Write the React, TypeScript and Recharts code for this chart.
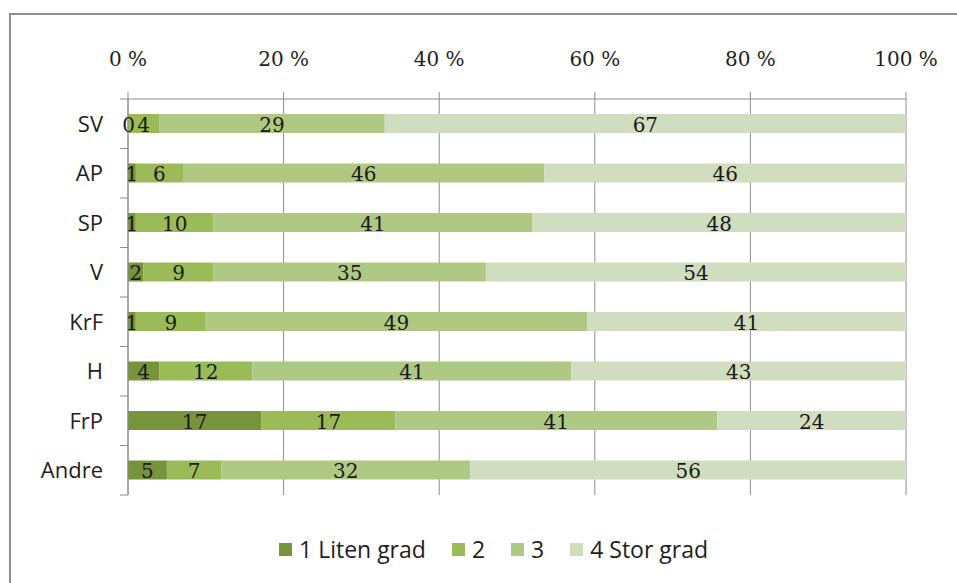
import { Bar, BarChart, CartesianGrid, LabelList, Legend, XAxis, YAxis } from "recharts";

const parties = ["SV", "AP", "SP", "V", "KrF", "H", "FrP", "Andre"];
const liten = [0, 1, 1, 2, 1, 4, 17, 5];
const grad2 = [4, 6, 10, 9, 9, 12, 17, 7];
const grad3 = [29, 46, 41, 35, 49, 41, 41, 32];
const stor = [67, 46, 48, 54, 41, 43, 24, 56];
const pctTicks = [0, 0.2, 0.4, 0.6, 0.8, 1];

const series = [
  { key: "liten", name: "1 Liten grad", color: "#77933c" },
  { key: "g2", name: "2", color: "#9bbb59" },
  { key: "g3", name: "3", color: "#afc883" },
  { key: "stor", name: "4 Stor grad", color: "#d0ddbf" },
];

const rows = parties.map((party, i) => ({
  party,
  liten: liten[i],
  g2: grad2[i],
  g3: grad3[i],
  stor: stor[i],
}));

const W = 957;
const H = 583;
const PLOT_LEFT = 128;
const PLOT_TOP = 99;
const PLOT_BOTTOM = 495;
const BAND = (PLOT_BOTTOM - PLOT_TOP) / parties.length;

const sans = "'Open Sans', Lato, sans-serif";
const serif = "'DejaVu Serif', 'Liberation Serif', serif";

function PartyTick(props: any) {
  const { y, payload, index } = props;
  return (
    <g>
      <line x1={PLOT_LEFT - 8} x2={PLOT_LEFT} y1={y - BAND / 2} y2={y - BAND / 2} stroke="#8c8c8c" />
      {index === parties.length - 1 && (
        <line x1={PLOT_LEFT - 8} x2={PLOT_LEFT} y1={y + BAND / 2} y2={y + BAND / 2} stroke="#8c8c8c" />
      )}
      <text x={103} y={y} dy={8} textAnchor="end" fontFamily={sans} fontSize={22} fill="#1e1e1e">
        {payload.value}
      </text>
    </g>
  );
}

function SegLabel(props: any) {
  const { x, y, width, height, value } = props;
  return (
    <text
      x={x + width / 2}
      y={y + height / 2}
      dy={8}
      textAnchor="middle"
      fontFamily={serif}
      fontSize={20}
      fill="#1a1a1a"
    >
      {value}
    </text>
  );
}

// legend sits a little right of centre in the original
function LegendRow() {
  return (
    <div
      style={{
        display: "flex",
        justifyContent: "flex-start",
        paddingTop: 38,
        paddingLeft: 279,
        fontFamily: sans,
        fontSize: 23,
        color: "#1e1e1e",
      }}
    >
      {series.map((s) => (
        <div key={s.key} style={{ display: "flex", alignItems: "center", marginRight: 26 }}>
          <span style={{ width: 13, height: 13, background: s.color, marginRight: 7, display: "inline-block" }} />
          <span>{s.name}</span>
        </div>
      ))}
    </div>
  );
}

export default function App() {
  return (
    <div style={{ position: "fixed", left: 0, top: 0, width: W, height: H, overflow: "hidden", background: "#fff" }}>
      <div
        style={{
          position: "absolute",
          left: 9,
          top: 13,
          width: 1200,
          height: 1200,
          border: "2px solid #8e8e8e",
          boxSizing: "border-box",
        }}
      />
      <div style={{ position: "absolute", left: 0, top: 0 }}>
        <BarChart
          width={W}
          height={H}
          data={rows}
          layout="vertical"
          stackOffset="expand"
          barSize={19}
          margin={{ top: 0, right: W - 906, left: 0, bottom: 0 }}
        >
          <CartesianGrid horizontal={false} stroke="#8c8c8c" />
          <XAxis
            type="number"
            orientation="top"
            domain={[0, 1]}
            ticks={pctTicks}
            tickFormatter={(v: number) => `${Math.round(v * 100)} %`}
            height={PLOT_TOP}
            stroke="#8c8c8c"
            tickSize={7}
            tickMargin={26}
            tick={{ fontFamily: serif, fontSize: 20, fill: "#1e1e1e" }}
          />
          <YAxis
            type="category"
            dataKey="party"
            width={PLOT_LEFT}
            stroke="#8c8c8c"
            tickLine={false}
            tick={<PartyTick />}
          />
          <Legend verticalAlign="bottom" height={H - PLOT_BOTTOM} content={<LegendRow />} />
          {series.map((s) => (
            <Bar
              key={s.key}
              dataKey={s.key}
              name={s.name}
              stackId="a"
              fill={s.color}
              minPointSize={s.key === "liten" ? 1 : 0}
              isAnimationActive={false}
            >
              <LabelList dataKey={s.key} content={<SegLabel />} />
            </Bar>
          ))}
        </BarChart>
      </div>
    </div>
  );
}
